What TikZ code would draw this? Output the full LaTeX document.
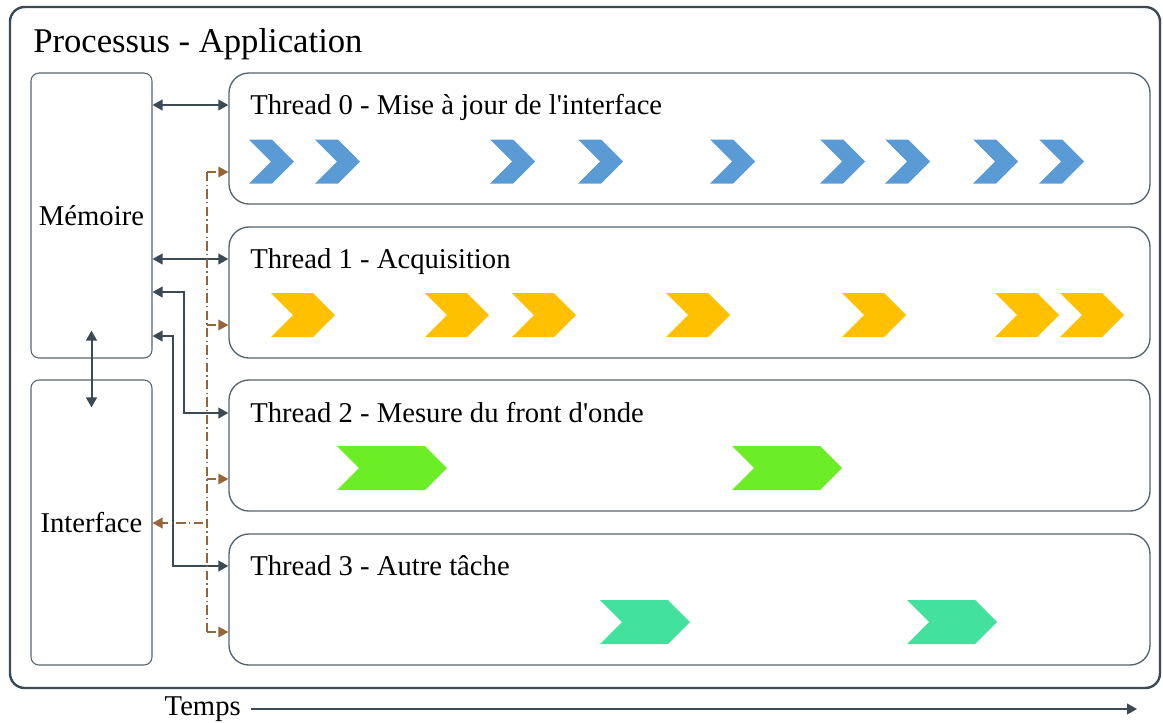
\documentclass[tikz,border=0pt]{standalone}
\usepackage{fontspec}
\setmainfont{Liberation Serif}
\usetikzlibrary{arrows.meta,fit}

\definecolor{slate}{HTML}{3B4A55}
\definecolor{boxline}{HTML}{56646E}
\definecolor{brun}{HTML}{94663A}
\definecolor{bleu}{HTML}{5B9BD5}
\definecolor{jaune}{HTML}{FFC000}
\definecolor{vert}{HTML}{6CEE26}
\definecolor{turquoise}{HTML}{42E29E}

% one task slice: colour, left x, top y, width
\newcommand{\tache}[4]{\fill[#1] (#2,#3) -- ++(#4-22,0) -- ++(22,22) -- ++(-22,22) -- ++(22-#4,0) -- ++(22,-22) -- cycle;}

\begin{document}
\begin{tikzpicture}[x=0.75pt, y=-0.75pt,
  font=\fontsize{21.5}{25}\selectfont,
  >={Triangle[length=7.5pt,width=8pt]},
  frame/.style={draw=slate, line width=1.8pt, rounded corners=11pt, inner sep=0pt},
  side/.style={draw=boxline, line width=0.8pt, rounded corners=6pt, inner sep=0pt},
  thread/.style={draw=boxline, line width=1pt, rounded corners=15pt, inner sep=0pt},
  lbl/.style={anchor=base west, inner sep=0pt},
  link/.style={slate, line width=1.5pt},
  ctl/.style={brun, line width=1pt, dash pattern=on 7pt off 2.5pt on 1pt off 2.5pt}]
\useasboundingbox (0,0) rectangle (1163,722);
\node[frame, fit={(10,7) (1160,688)}] (proc) {};
\node[lbl, font=\fontsize{26}{30}\selectfont] (proctxt) at (33,52) {Processus - Application};
\node[side, fit={(31,73) (152,358)}] (mem) {};
\node (memtxt) at (mem.center) {Mémoire};
\node[side, fit={(31,380) (152,665)}] (itf) {};
\node (itftxt) at (itf.center) {Interface};
\node[thread, fit={(229,73) (1150,204)}] (t0) {};
\node[thread, fit={(229,227) (1150,358)}] (t1) {};
\node[thread, fit={(229,380) (1150,511)}] (t2) {};
\node[thread, fit={(229,534) (1150,665)}] (t3) {};
\node[lbl] (t0txt) at (250,114) {Thread 0 - Mise à jour de l\textquotesingle interface};
\node[lbl] (t1txt) at (250,268) {Thread 1 - Acquisition};
\node[lbl] (t2txt) at (250,422) {Thread 2 - Mesure du front d\textquotesingle onde};
\node[lbl] (t3txt) at (250,575) {Thread 3 - Autre tâche};
% task slices
\foreach \x in {249,315,490,578,710,820,885,973,1039} {\tache{bleu}{\x}{139.5}{45}}
\foreach \x in {271,425,512,666,842,995,1060} {\tache{jaune}{\x}{293}{64}}
\foreach \x in {337,732} {\tache{vert}{\x}{446}{110}}
\foreach \x in {600,907} {\tache{turquoise}{\x}{600}{90}}
% memory links
\draw[link, <->] (mem.east |- 0,105) -- (t0.west |- 0,105);
\draw[link, <->] (mem.east |- 0,259) -- (t1.west |- 0,259);
\draw[link, <->] (mem.east |- 0,292) -| (184,413) -- (t2.west |- 0,413);
\draw[link, <->] (mem.east |- 0,336) -| (173,566) -- (t3.west |- 0,566);
\draw[link, <->] ([yshift=21pt]mem.south) -- ([yshift=-21pt]itf.north);
% interface events
\coordinate (bustop) at (207,172);
\coordinate (busbot) at (207,632);
\draw[ctl] (bustop) -- (busbot);
\draw[ctl, ->] (bustop) -- (t0.west |- bustop);
\draw[ctl, ->] (207,325) -- (t1.west |- 0,325);
\draw[ctl, ->] (207,479) -- (t2.west |- 0,479);
\draw[ctl, ->] (busbot) -- (t3.west |- busbot);
\draw[ctl, ->] (203,523) -- (itf.east |- 0,523);
% time axis
\node[anchor=east, inner sep=0pt] (temps) at (241,709) {Temps};
\coordinate (tend) at (1137,709);
\draw[link, ->] ([xshift=7.5pt]temps.east) -- (tend);
\end{tikzpicture}
\end{document}
